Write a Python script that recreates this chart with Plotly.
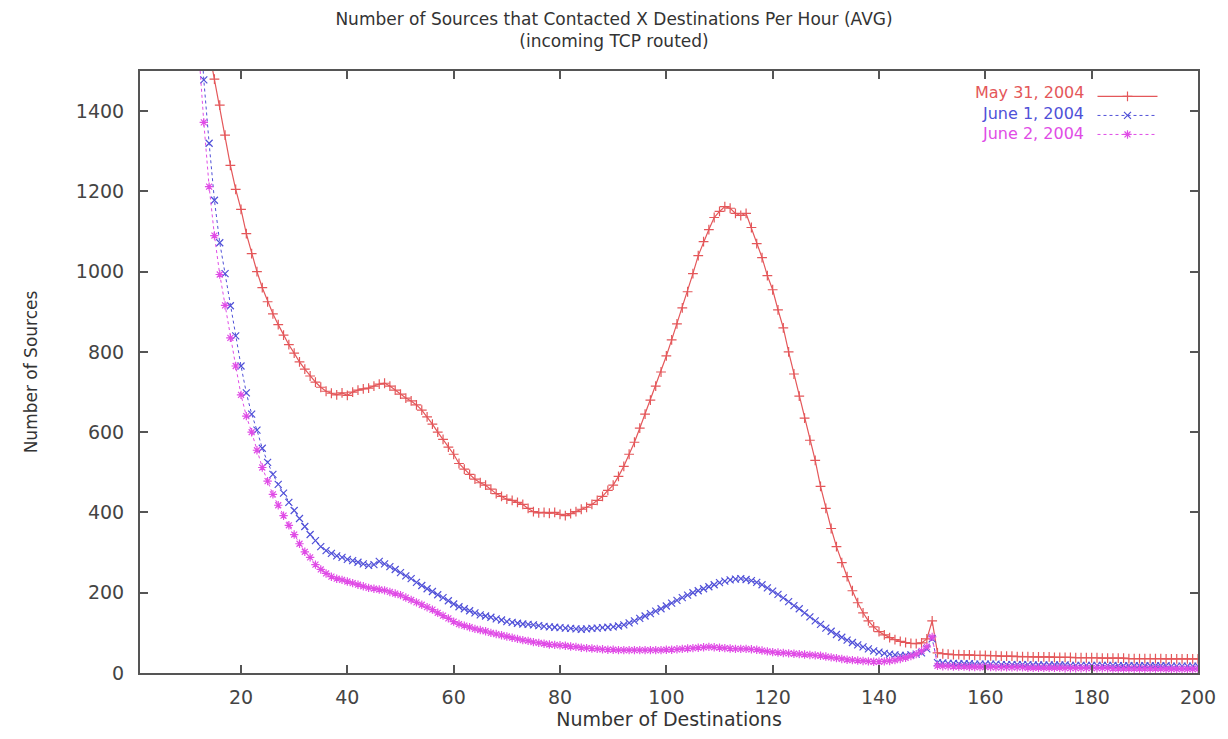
import plotly.graph_objects as go

# ---------------- data ----------------
red_x0 = 14
may31 = [1550, 1480, 1415, 1340, 1265, 1205, 1155, 1095, 1045, 1000, 960,      # 14-24
         925, 895, 868, 842, 818, 797, 775, 757, 740, 725,                  # 25-34
         712, 702, 697, 693, 698, 692, 700, 705, 708, 710,                  # 35-44
         715, 720, 722, 715, 705, 695, 685, 678, 668, 655,                  # 45-54
         638, 620, 600, 582, 563, 545, 522, 508, 495, 483,                  # 55-64
         474, 468, 458, 447, 440, 433, 430, 425, 420, 410,                  # 65-74
         402, 399, 400, 398, 400, 395, 392, 397, 402, 408,                  # 75-84
         413, 420, 430, 440, 455, 468, 490, 515, 545, 575,                  # 85-94
         610, 645, 680, 715, 750, 790, 830, 870, 910, 950,                  # 95-104
         995, 1040, 1075, 1105, 1135, 1150, 1162, 1158, 1145, 1140,         # 105-114
         1145, 1110, 1070, 1035, 990, 955, 905, 860, 800, 745,              # 115-124
         690, 635, 580, 530, 465, 410, 360, 315, 275, 240,                  # 125-134
         205, 175, 150, 130, 115, 103, 95, 88, 83, 79,                      # 135-144
         76, 74, 73, 75, 85, 130,                                           # 145-150
         50, 48, 47, 46, 46, 45, 45, 44, 44, 44,                            # 151-160
         43, 43, 42, 42, 42, 41, 41, 41, 40, 40,                            # 161-170
         40, 40, 39, 39, 39, 39, 38, 38, 38, 38,                            # 171-180
         38, 37, 37, 37, 37, 37, 36, 36, 36, 36,                            # 181-190
         36, 36, 36, 35, 35, 35, 35, 35, 35, 35]                            # 191-200

blue_x0 = 12
june1 = [1680, 1478, 1320, 1178, 1072, 995, 915, 840, 765, 698, 645,           # 12-22
         605, 560, 525, 495, 470, 448, 425, 405, 385, 365,                  # 23-32
         345, 330, 315, 305, 298, 292, 288, 283, 280, 276,                  # 33-42
         272, 268, 270, 278, 272, 265, 258, 250, 242, 235,                  # 43-52
         226, 218, 210, 203, 195, 188, 180, 172, 165, 160,                  # 53-62
         155, 150, 145, 142, 139, 135, 132, 128, 126, 124,                  # 63-72
         122, 121, 120, 118, 116, 115, 114, 113, 112, 111,                  # 73-82
         110, 109, 110, 111, 112, 113, 114, 115, 117, 120,                  # 83-92
         125, 130, 136, 142, 148, 154, 160, 167, 174, 181,                  # 93-102
         188, 194, 200, 205, 210, 215, 220, 225, 229, 232,                  # 103-112
         234, 235, 233, 230, 226, 220, 212, 204, 196, 187,                  # 113-122
         178, 168, 160, 150, 140, 130, 121, 112, 104, 96,                   # 123-132
         89, 82, 76, 70, 65, 60, 55, 52, 49, 47,                            # 133-142
         45, 44, 44, 45, 47, 50, 60, 85,                                    # 143-150
         26, 25, 24, 24, 23, 23, 23, 22, 22, 22,                            # 151-160
         22, 22, 21, 21, 21, 21, 21, 21, 20, 20,                            # 161-170
         20, 20, 20, 20, 20, 19, 19, 19, 19, 19,                            # 171-180
         19, 19, 19, 19, 18, 18, 18, 18, 18, 18,                            # 181-190
         18, 18, 18, 18, 17, 17, 17, 17, 17, 17]                            # 191-200

mag_x0 = 12
june2 = [1560, 1372, 1212, 1090, 993, 916, 835, 765, 693, 640, 600,            # 12-22
         555, 512, 478, 445, 418, 392, 368, 345, 322, 302,                  # 23-32
         288, 270, 258, 248, 240, 235, 232, 228, 224, 220,                  # 33-42
         216, 212, 210, 208, 206, 202, 198, 194, 188, 182,                  # 43-52
         176, 170, 164, 158, 150, 143, 136, 128, 122, 118,                  # 53-62
         114, 110, 107, 104, 100, 97, 94, 91, 88, 85,                       # 63-72
         82, 80, 77, 75, 73, 71, 70, 69, 68, 66,                            # 73-82
         65, 63, 62, 61, 60, 59, 58, 58, 57, 57,                            # 83-92
         57, 57, 57, 57, 57, 57, 57, 58, 58, 59,                            # 93-102
         60, 61, 62, 63, 64, 65, 64, 63, 62, 61,                            # 103-112
         60, 60, 60, 59, 58, 56, 54, 52, 51, 50,                            # 113-122
         49, 48, 47, 46, 45, 44, 43, 41, 39, 37,                            # 123-132
         35, 33, 32, 31, 30, 29, 28, 28, 29, 30,                            # 133-142
         32, 35, 38, 42, 47, 55, 65, 90,                                    # 143-150
         18, 17, 17, 16, 16, 16, 15, 15, 15, 15,                            # 151-160
         15, 14, 14, 14, 14, 14, 14, 13, 13, 13,                            # 161-170
         13, 13, 13, 13, 12, 12, 12, 12, 12, 12,                            # 171-180
         12, 12, 12, 11, 11, 11, 11, 11, 11, 11,                            # 181-190
         11, 11, 11, 10, 10, 10, 10, 10, 10, 10]                            # 191-200

series_names = ["May 31, 2004", "June 1, 2004", "June 2, 2004"]
series_colors = ["#e4575a", "#5050d8", "#e04ce6"]

x_ticks = [20, 40, 60, 80, 100, 120, 140, 160, 180, 200]
y_ticks = [0, 200, 400, 600, 800, 1000, 1200, 1400]

title_lines = ["Number of Sources that Contacted X Destinations Per Hour (AVG)",
               "(incoming TCP routed)"]

# ---------------- figure ----------------
FONT = "DejaVu Sans"
fig = go.Figure()

def xs(x0, ys):
    return list(range(x0, x0 + len(ys)))

styles = [
    dict(dash="solid", width=1.2, symbol="cross-thin"),
    dict(dash="3px,3px", width=1.0, symbol="x-thin"),
    dict(dash="dot", width=1.0, symbol="asterisk"),
]
for (x0, ys), name, color, st in zip(
        [(red_x0, may31), (blue_x0, june1), (mag_x0, june2)],
        series_names, series_colors, styles):
    fig.add_trace(go.Scatter(
        x=xs(x0, ys), y=ys, mode="lines+markers",
        name=" ",  # label drawn as right-aligned text left of the sample (gnuplot style)
        hovertemplate=name + ": %{x}, %{y}<extra></extra>",
        line=dict(color=color, width=st["width"], dash=st["dash"]),
        marker=dict(symbol=st["symbol"], size=7, line=dict(width=1.2, color=color)),
    ))

# legend labels (gnuplot puts the text to the left of the key sample)
label_y_px = [93, 113.5, 134]
plot_top, plot_bottom = 71, 676
for name, color, ypx in zip(series_names, series_colors, label_y_px):
    fig.add_annotation(
        text=name, xref="paper", yref="paper",
        x=(1090 - 140) / 1063, y=(plot_bottom - ypx) / (plot_bottom - plot_top),
        xanchor="right", yanchor="middle", showarrow=False,
        font=dict(family=FONT, size=16, color=color),
    )

axis_common = dict(
    showline=True, linecolor="#555555", linewidth=2, mirror="ticks",
    ticks="inside", ticklen=8, tickwidth=1.5, tickcolor="#555555",
    showgrid=False, zeroline=False,
    tickfont=dict(family=FONT, size=19, color="#444444"),
)

fig.update_layout(
    width=1228, height=739,
    margin=dict(l=140, r=25, t=71, b=63),
    paper_bgcolor="white", plot_bgcolor="white",
    title=dict(text="<br>".join(title_lines), x=0.5, xanchor="center",
               yref="container", y=1 - 25 / 739, yanchor="middle",
               font=dict(family=FONT, size=17, color="#333333")),
    xaxis=dict(range=[1, 200], tickvals=x_ticks, ticklabelstandoff=6, **axis_common,
               title=dict(text="Number of Destinations", standoff=6,
                          font=dict(family=FONT, size=19, color="#333333"))),
    yaxis=dict(range=[0, 1500], tickvals=y_ticks, ticklabelstandoff=10, **axis_common,
               title=dict(text="Number of Sources", standoff=34,
                          font=dict(family=FONT, size=17, color="#333333"))),
    legend=dict(x=(1097 - 140) / 1063, xanchor="left", y=(676 - 82) / 605, yanchor="top",
                bgcolor="rgba(0,0,0,0)", font=dict(family=FONT, size=12),
                tracegroupgap=0, itemwidth=60),
    showlegend=True,
)

fig.write_html("out.html")
